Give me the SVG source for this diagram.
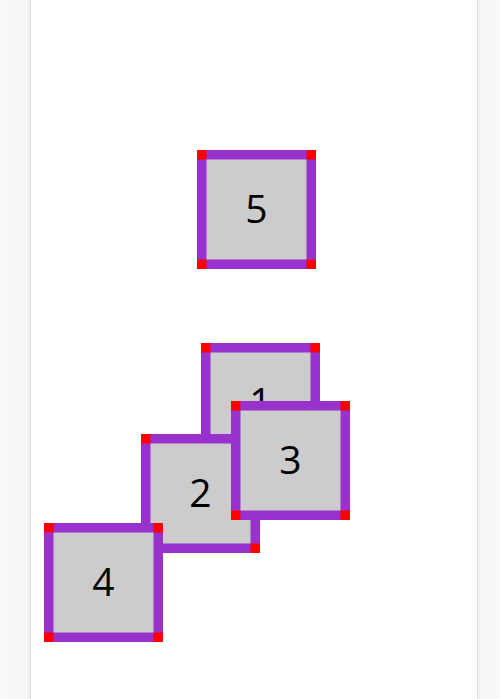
<svg xmlns="http://www.w3.org/2000/svg" width="500" height="699" viewBox="0 0 500 699">
  <style>
    .lbl { font-family: "Open Sans", "Noto Sans", "DejaVu Sans", sans-serif; font-size: 39px; fill: #000; text-anchor: middle; }
  </style>
  <defs>
    <linearGradient id="gl" x1="0" y1="0" x2="1" y2="0">
      <stop offset="0" stop-color="#f9f9f9"/>
      <stop offset="0.85" stop-color="#f6f6f6"/>
      <stop offset="1" stop-color="#eeeeee"/>
    </linearGradient>
    <linearGradient id="gr" x1="0" y1="0" x2="1" y2="0">
      <stop offset="0" stop-color="#eeeeee"/>
      <stop offset="0.15" stop-color="#f6f6f6"/>
      <stop offset="1" stop-color="#f9f9f9"/>
    </linearGradient>
    <g id="box">
      <rect x="4.75" y="4.75" width="109.5" height="109.5" fill="#cccccc" stroke="#9932cc" stroke-width="9.5"/>
      <rect x="0" y="0" width="9.5" height="9.5" fill="#ff0000"/>
      <rect x="109.5" y="0" width="9.5" height="9.5" fill="#ff0000"/>
      <rect x="0" y="109.5" width="9.5" height="9.5" fill="#ff0000"/>
      <rect x="109.5" y="109.5" width="9.5" height="9.5" fill="#ff0000"/>
    </g>
  </defs>
  <rect x="0" y="0" width="500" height="699" fill="#ffffff"/>
  <rect x="0" y="0" width="30" height="699" fill="url(#gl)"/>
  <rect x="478" y="0" width="22" height="699" fill="url(#gr)"/>
  <line x1="30.5" y1="0" x2="30.5" y2="699" stroke="#dddddd" stroke-width="1"/>
  <line x1="477.5" y1="0" x2="477.5" y2="699" stroke="#dddddd" stroke-width="1"/>
  <g id="connectors"></g>
  <g id="node5">
    <use href="#box" x="197" y="150"/>
    <text class="lbl" x="256.5" y="223">5</text>
  </g>
  <g id="node1">
    <use href="#box" x="201" y="343"/>
    <text class="lbl" x="260.5" y="416">1</text>
  </g>
  <g id="node2">
    <use href="#box" x="141" y="434"/>
    <text class="lbl" x="200.5" y="507">2</text>
  </g>
  <g id="node3">
    <use href="#box" x="231" y="401"/>
    <text class="lbl" x="290.5" y="474">3</text>
  </g>
  <g id="node4">
    <use href="#box" x="44" y="523"/>
    <text class="lbl" x="103.5" y="596">4</text>
  </g>
</svg>
